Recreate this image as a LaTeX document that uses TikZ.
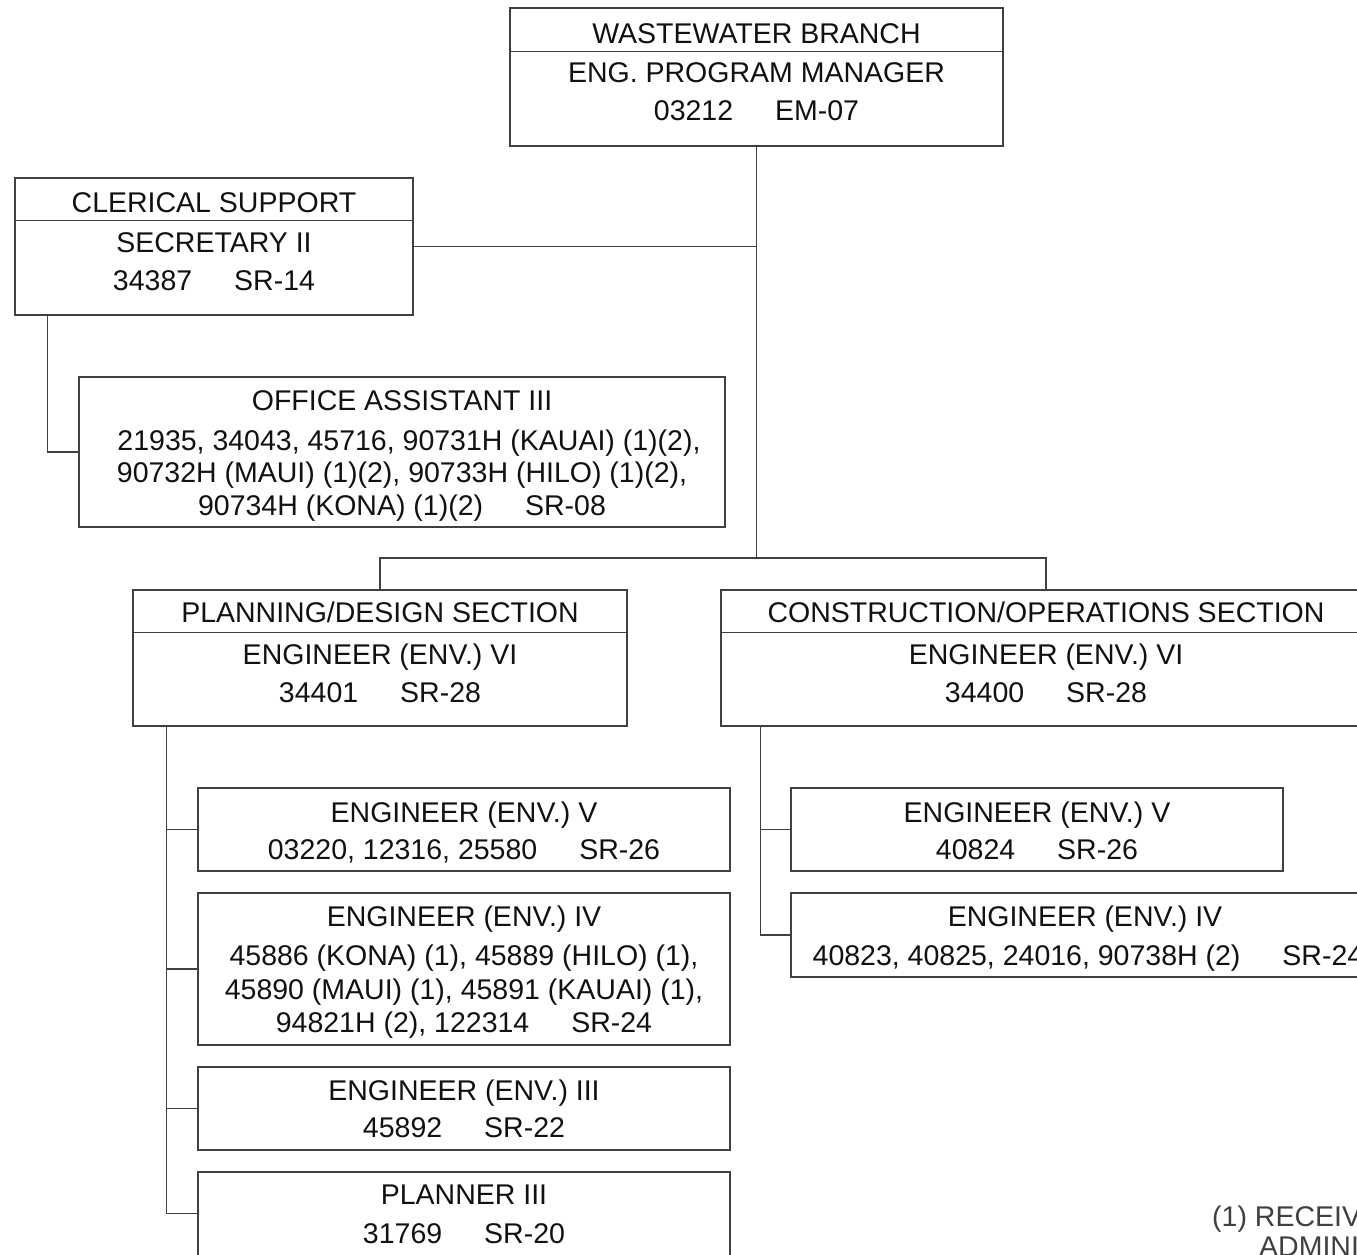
\documentclass[tikz,border=0pt]{standalone}
\usepackage{fontspec}
\setmainfont{Liberation Sans}
\usetikzlibrary{calc}
\definecolor{linegray}{HTML}{404040}
\definecolor{textblack}{HTML}{111111}
\newcommand{\gapsr}{\hspace{42pt}}
\begin{document}
\begin{tikzpicture}[x=1pt,y=-1pt,
  box/.style={draw=linegray, line width=1.2pt, rectangle, inner sep=0pt, fill=none},
  txt/.style={inner sep=0pt, text height=20.4pt, text depth=0pt, text=textblack,
    font=\fontsize{28.5}{34}\selectfont},
  conn/.style={draw=linegray, line width=1.2pt},
  divider/.style={draw=linegray, line width=1.2pt}]
\useasboundingbox (0,0) rectangle (1357,1254);
\clip (0,0) rectangle (1357,1254);
\fill[white] (0,0) rectangle (1357,1254);

% ---------- boxes ----------
\node[box, minimum width=493pt, minimum height=138pt] (top)  at (756.5,77) {};
\node[box, minimum width=398pt, minimum height=137pt] (cler) at (214,246.5) {};
\node[box, minimum width=646pt, minimum height=150pt] (oa)   at (402,452) {};
\node[box, minimum width=494pt, minimum height=136pt] (plan) at (380,658) {};
\node[box, minimum width=650pt, minimum height=136pt] (cons) at (1046,658) {};
\node[box, minimum width=532pt, minimum height=83pt]  (evl)  at (464,829.5) {};
\node[box, minimum width=532pt, minimum height=152pt] (eivl) at (464,969) {};
\node[box, minimum width=532pt, minimum height=83pt]  (eiiil) at (464,1108.5) {};
\node[box, minimum width=532pt, minimum height=85pt]  (pl)   at (464,1214.5) {};
\node[box, minimum width=492pt, minimum height=83pt]  (evr)  at (1037,829.5) {};
\node[box, minimum width=588pt, minimum height=84pt]  (eivr) at (1085,935) {};

% ---------- dividers ----------
\draw[divider] ($(top.north west)+(0,44)$) -- ($(top.north east)+(0,44)$);
\draw[divider] ($(cler.north west)+(0,43)$) -- ($(cler.north east)+(0,43)$);
\draw[divider] ($(plan.north west)+(0,43)$) -- ($(plan.north east)+(0,43)$);
\draw[divider] ($(cons.north west)+(0,43)$) -- ($(cons.north east)+(0,43)$);

% ---------- texts ----------
\node[txt] (t1) at (756.5,33) {WASTEWATER BRANCH};
\node[txt] (t2) at (756.5,72) {ENG. PROGRAM MANAGER};
\node[txt] (t3) at (756.5,110) {03212\gapsr EM-07};

\node[txt] (c1) at (214,202) {CLERICAL SUPPORT};
\node[txt] (c2) at (214,242) {SECRETARY II};
\node[txt] (c3) at (214,280) {34387\gapsr SR-14};

\node[txt] (o1) at (402,400) {OFFICE ASSISTANT III};
\node[txt] (o2) at (409,440) {21935, 34043, 45716, 90731H (KAUAI) (1)(2),};
\node[txt] (o3) at (402,472) {90732H (MAUI) (1)(2), 90733H (HILO) (1)(2),};
\node[txt] (o4) at (402,505) {90734H (KONA) (1)(2)\gapsr SR-08};

\node[txt] (p1) at (380,612) {PLANNING/DESIGN SECTION};
\node[txt] (p2) at (380,654) {ENGINEER (ENV.) VI};
\node[txt] (p3) at (380,692) {34401\gapsr SR-28};

\node[txt] (s1) at (1046,612) {CONSTRUCTION/OPERATIONS SECTION};
\node[txt] (s2) at (1046,654) {ENGINEER (ENV.) VI};
\node[txt] (s3) at (1046,692) {34400\gapsr SR-28};

\node[txt] (a1) at (464,812) {ENGINEER (ENV.) V};
\node[txt] (a2) at (464,849) {03220, 12316, 25580\gapsr SR-26};

\node[txt] (b1) at (464,916) {ENGINEER (ENV.) IV};
\node[txt] (b2) at (464,955) {45886 (KONA) (1), 45889 (HILO) (1),};
\node[txt] (b3) at (464,989) {45890 (MAUI) (1), 45891 (KAUAI) (1),};
\node[txt] (b4) at (464,1022) {94821H (2), 122314\gapsr SR-24};

\node[txt] (d1) at (464,1090) {ENGINEER (ENV.) III};
\node[txt] (d2) at (464,1127) {45892\gapsr SR-22};

\node[txt] (e1) at (464,1194) {PLANNER III};
\node[txt] (e2) at (464,1233) {31769\gapsr SR-20};

\node[txt] (f1) at (1037,812) {ENGINEER (ENV.) V};
\node[txt] (f2) at (1037,849) {40824\gapsr SR-26};

\node[txt] (g1) at (1085,916) {ENGINEER (ENV.) IV};
\node[txt] (g2) at (1088,955) {40823, 40825, 24016, 90738H (2)\gapsr SR-24};

\node[txt, anchor=west, text=linegray] (n1) at (1212,1216) {(1) RECEIVES};
\node[txt, anchor=west, text=linegray] (n2) at (1259,1246) {ADMINISTRATIVE};

% ---------- connectors ----------
\coordinate (j1) at (756.5,558);
\draw[conn] (top.south) -- (j1);
\draw[conn] (cler.east) -- (cler.east -| top.south);
\draw[conn] ($(cler.south west)+(33,0)$) |- (oa.west);
\draw[conn] (plan.north) |- (j1);
\draw[conn] (cons.north) |- (j1);

\coordinate (ps) at ($(plan.south west)+(34,0)$);
\coordinate (pb) at (ps |- 0,1213.5);
\draw[conn] (ps) -- (pb) -- (pb -| pl.west);
\draw[conn] (ps |- evl.west) -- (evl.west);
\draw[conn] (ps |- eivl.west) -- (eivl.west);
\draw[conn] (ps |- eiiil.west) -- (eiiil.west);

\coordinate (cs) at ($(cons.south west)+(40,0)$);
\draw[conn] (cs) |- (eivr.west);
\draw[conn] (cs |- evr.west) -- (evr.west);
\end{tikzpicture}
\end{document}
